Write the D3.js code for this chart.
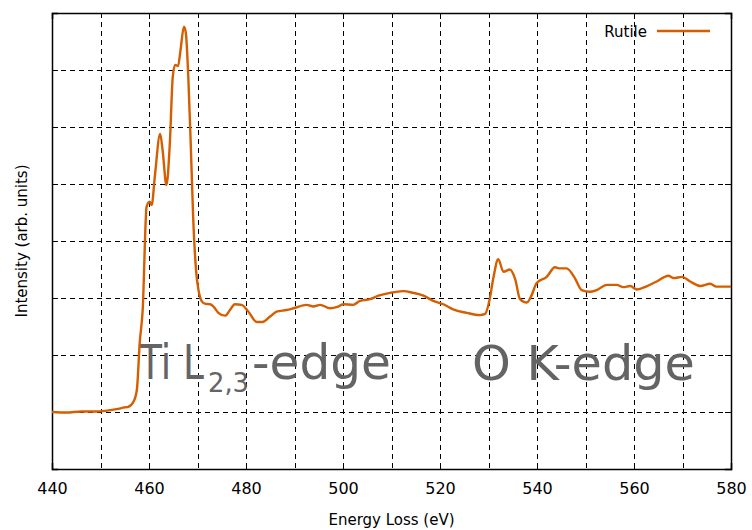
<!DOCTYPE html>
<html>
<head>
<meta charset="utf-8">
<script src="https://cdn.jsdelivr.net/npm/d3@7"></script>
<style>
  html, body { margin: 0; padding: 0; background: #fff; }
  svg { display: block; }
  text { font-family: "DejaVu Sans", sans-serif; }
</style>
</head>
<body>
<svg id="chart" width="752" height="530"></svg>
<script>
// EELS spectrum of rutile: energy loss (eV) and intensity (arb. units)
const energy = [
  440, 443, 446, 449, 451, 453.3, 455, 455.7, 456.8, 457.5, 458.1, 458.7,
  459.5, 460.1, 460.55, 461.2, 462.3, 462.8, 463.6, 464.3, 464.9, 465.4,
  466.0, 466.5, 467.2, 467.6, 468.1, 468.6, 469.1, 469.7, 470.2, 470.9,
  471.5, 472.6, 473.3, 474.3, 475.7, 476.7, 477.7, 479.1, 480.5, 482.2,
  483.4, 484.9, 486.3, 488.4, 489.8, 492.5, 493.9, 495.3, 497.3, 499.0,
  500.1, 502.1, 503.5, 505.6, 507.3, 509.7, 512.4, 514.5, 516.6, 518.6,
  520.7, 522.7, 525.5, 528.2, 529.3, 530.2, 531.0, 532.0, 533.1, 534.4,
  535.5, 536.5, 537.9, 538.9, 539.9, 542.0, 543.7, 544.7, 546.1, 547.8,
  549.2, 550.9, 552.3, 554.4, 556.4, 557.8, 559.2, 560.6, 562.7, 564.7,
  567.1, 568.2, 569.9, 571.6, 573.7, 575.7, 577.0, 580
];
const intensity = [
  1.00, 0.99, 1.01, 1.01, 1.02, 1.05, 1.08, 1.09, 1.18, 1.39, 2.23, 2.79,
  4.60, 4.69, 4.63, 5.13, 5.88, 5.60, 4.98, 5.72, 6.88, 7.09,
  7.07, 7.35, 7.76, 7.65, 6.88, 5.72, 4.43, 3.49, 3.14, 2.94,
  2.90, 2.89, 2.85, 2.74, 2.69, 2.79, 2.89, 2.88, 2.76, 2.58,
  2.58, 2.67, 2.76, 2.79, 2.82, 2.88, 2.85, 2.88, 2.82, 2.85,
  2.89, 2.88, 2.95, 2.98, 3.04, 3.09, 3.12, 3.09, 3.04, 2.95,
  2.89, 2.80, 2.74, 2.70, 2.72, 2.96, 3.35, 3.68, 3.46, 3.50,
  3.33, 2.98, 2.92, 3.05, 3.26, 3.37, 3.54, 3.52, 3.52, 3.35,
  3.14, 3.11, 3.14, 3.23, 3.23, 3.19, 3.21, 3.15, 3.21, 3.29,
  3.39, 3.35, 3.37, 3.29, 3.21, 3.25, 3.20, 3.20
];
const xTicks = [440, 460, 480, 500, 520, 540, 560, 580];
const xGrid = [450, 460, 470, 480, 490, 500, 510, 520, 530, 540, 550, 560, 570];
const yTicks = [1, 2, 3, 4, 5, 6, 7];
const seriesName = "Rutile";

const svg = d3.select("#chart");
const m = { left: 52, top: 13, right: 21, bottom: 61 };
const W = 752 - m.left - m.right;
const H = 530 - m.top - m.bottom;
const g = svg.append("g").attr("transform", `translate(${m.left},${m.top})`);

const x = d3.scaleLinear().domain([440, 580]).range([0, W]);
const y = d3.scaleLinear().domain([0, 8]).range([H, 0]);

// dashed grid
g.append("g").selectAll("line").data(xGrid).join("line")
  .attr("x1", d => Math.round(x(d)) + 0.5).attr("x2", d => Math.round(x(d)) + 0.5)
  .attr("y1", 0).attr("y2", H)
  .attr("stroke", "#000").attr("stroke-width", 1).attr("stroke-dasharray", "5,4");
g.append("g").selectAll("line").data(yTicks).join("line")
  .attr("y1", d => Math.round(y(d)) + 0.5).attr("y2", d => Math.round(y(d)) + 0.5)
  .attr("x1", 0).attr("x2", W)
  .attr("stroke", "#000").attr("stroke-width", 1).attr("stroke-dasharray", "5,4");

// axes with inward ticks on all four sides
const tk = 6;
const axBottom = g.append("g").attr("transform", `translate(0,${H})`)
  .call(d3.axisBottom(x).tickValues(xTicks).tickSize(-tk).tickPadding(14).tickFormat(d3.format("d")));
const axTop = g.append("g")
  .call(d3.axisTop(x).tickValues(xTicks).tickSize(-tk).tickFormat(""));
const axLeft = g.append("g")
  .call(d3.axisLeft(y).tickValues(yTicks).tickSize(-tk).tickFormat(""));
const axRight = g.append("g").attr("transform", `translate(${W},0)`)
  .call(d3.axisRight(y).tickValues(yTicks).tickSize(-tk).tickFormat(""));
[axBottom, axTop, axLeft, axRight].forEach(a => {
  a.select(".domain").attr("stroke", "#000").attr("stroke-width", 1.5);
  a.selectAll(".tick line").attr("stroke", "#000").attr("stroke-width", 1);
});
axBottom.selectAll(".tick text")
  .attr("font-family", "DejaVu Sans").attr("font-size", 16).attr("fill", "#000");

// edge annotations: each piece is stretched horizontally to its span
const annColor = "#646464";
const ann = g.append("g").attr("fill", annColor).attr("font-family", "Lato, 'Open Sans', sans-serif");
function fitted(str, x0, x1, base, size) {
  const t = ann.append("text").attr("font-size", size).text(str);
  const natural = t.node().getComputedTextLength();
  const sx = (x1 - x0) / natural;
  t.attr("transform", `translate(${x0 - m.left},${base - m.top}) scale(${sx},1)`);
  return t;
}
fitted("Ti L", 139, 204, 379, 48);
fitted("2,3", 208, 249, 392, 26);
fitted("-edge", 252, 391, 379, 48);
fitted("O K-edge", 472, 695, 380, 48);

// spectrum
const data = energy.map((e, i) => ({ e, v: intensity[i] }));
const line = d3.line().x(d => x(d.e)).y(d => y(d.v)).curve(d3.curveMonotoneX);
g.append("path").datum(data)
  .attr("fill", "none").attr("stroke", "#d55e00").attr("stroke-width", 2.4)
  .attr("stroke-linejoin", "round").attr("d", line);

// legend
const leg = g.append("g");
leg.append("text").attr("x", 647 - m.left).attr("y", 37 - m.top)
  .attr("text-anchor", "end").attr("font-size", 15).text(seriesName);
leg.append("line").attr("x1", 657 - m.left).attr("x2", 710 - m.left)
  .attr("y1", 31 - m.top).attr("y2", 31 - m.top)
  .attr("stroke", "#d55e00").attr("stroke-width", 2.4);

// axis titles
svg.append("text").attr("x", m.left + W / 2).attr("y", 525)
  .attr("text-anchor", "middle").attr("font-size", 15).text("Energy Loss (eV)");
svg.append("text").attr("transform", `translate(27,${m.top + H / 2}) rotate(-90)`)
  .attr("text-anchor", "middle").attr("font-size", 15).text("Intensity (arb. units)");
</script>
</body>
</html>
